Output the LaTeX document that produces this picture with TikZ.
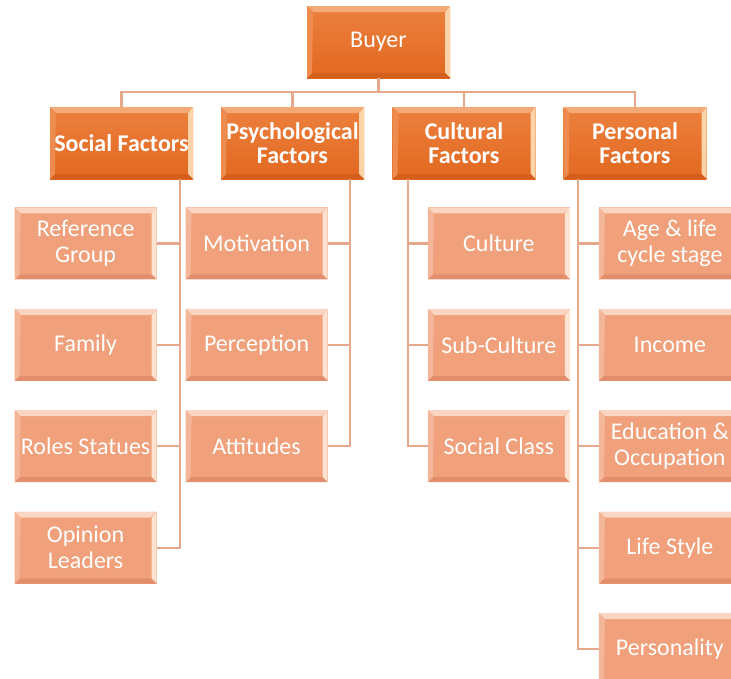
\documentclass[tikz,border=0pt]{standalone}
\usepackage{fontspec}
\setmainfont{Carlito}
\usepackage{tikz}
\usetikzlibrary{positioning}
\definecolor{headtop}{RGB}{236,128,62}
\definecolor{headbot}{RGB}{226,104,32}
\definecolor{headhi}{RGB}{244,170,118}
\definecolor{headrt}{RGB}{250,212,168}
\definecolor{headlo}{RGB}{212,94,28}
\definecolor{headlt}{RGB}{238,140,80}
\definecolor{itemfill}{RGB}{240,160,122}
\definecolor{itemhi}{RGB}{250,214,194}
\definecolor{itemrt}{RGB}{252,226,208}
\definecolor{itemlo}{RGB}{226,142,108}
\definecolor{itemlt}{RGB}{244,182,152}
\definecolor{linecol}{RGB}{230,168,138}
% top, right, bottom, left strips of the bevel
\newcommand{\boxbevel}[4]{%
\fill[#1] (path picture bounding box.north west) -- (path picture bounding box.north east) -- ([shift={(-6pt,-6pt)}]path picture bounding box.north east) -- ([shift={(6pt,-6pt)}]path picture bounding box.north west) -- cycle;
\fill[#2] (path picture bounding box.north east) -- (path picture bounding box.south east) -- ([shift={(-5pt,5pt)}]path picture bounding box.south east) -- ([shift={(-5pt,-6pt)}]path picture bounding box.north east) -- cycle;
\fill[#3] (path picture bounding box.south east) -- (path picture bounding box.south west) -- ([shift={(5pt,5pt)}]path picture bounding box.south west) -- ([shift={(-5pt,5pt)}]path picture bounding box.south east) -- cycle;
\fill[#4] (path picture bounding box.south west) -- (path picture bounding box.north west) -- ([shift={(6pt,-6pt)}]path picture bounding box.north west) -- ([shift={(5pt,5pt)}]path picture bounding box.south west) -- cycle;}
\tikzstyle{block} = [rectangle, minimum width=142pt, minimum height=72pt, inner sep=1pt,
text=white, align=center, font=\fontsize{24}{26}\selectfont]
\tikzstyle{head} = [block, minimum width=143pt, top color=headtop, bottom color=headbot,
font=\bfseries\fontsize{24}{24}\selectfont, path picture={\boxbevel{headhi}{headrt}{headlo}{headlt}}]
\tikzstyle{item} = [block, fill=itemfill, path picture={\boxbevel{itemhi}{itemrt}{itemlo}{itemlt}}]
\tikzstyle{line} = [draw, linecol, line width=2.2pt]

\begin{document}
\begin{tikzpicture}[x=1pt, y=-1pt, node distance=29pt]
\useasboundingbox (0,0) rectangle (731,678);
    % nodes
\node [head] (buyer) at (378.5,42) {\mdseries Buyer};
\node [head] (sf) at (121.5,143) {Social Factors};
\node [head] (pf) at (292.5,143) {Psychological\\Factors};
\node [head] (cf) at (464,143) {Cultural\\Factors};
\node [head] (perf) at (635,143) {Personal\\Factors};
\node [item, below left=28pt and -107pt of sf] (rg) {Reference\\Group};
\node [item, below=of rg] (fam) {Family};
\node [item, below=of fam] (rs) {Roles Statues};
\node [item, below=of rs] (ol) {Opinion\\Leaders};
\node [item, below left=28pt and -107pt of pf] (mot) {Motivation};
\node [item, below=of mot] (per) {Perception};
\node [item, below=of per] (att) {Attitudes};
\node [item, below right=28pt and -108pt of cf] (cul) {Culture};
\node [item, below=of cul] (sub) {Sub-Culture};
\node [item, below=of sub] (scl) {Social Class};
\node [item, below right=28pt and -108pt of perf] (alc) {Age \& life\\cycle stage};
\node [item, below=of alc] (inc) {Income};
\node [item, below=of inc] (eo) {Education \&\\Occupation};
\node [item, below=of eo] (ls) {Life Style};
\node [item, below=of ls] (pers) {Personality};
\coordinate (bus) at (378.5,92);
\coordinate (sft) at ([xshift=-13pt]sf.south east);
\coordinate (pft) at ([xshift=-14pt]pf.south east);
\coordinate (cft) at ([xshift=16pt]cf.south west);
\coordinate (perft) at ([xshift=15pt]perf.south west);

%edges
\draw [line] (buyer) -- (bus);
\draw [line] (bus) -| (sf);
\draw [line] (bus) -| (pf);
\draw [line] (bus) -| (cf);
\draw [line] (bus) -| (perf);
\draw [line] (sft) |- (rg);
\draw [line] (sft) |- (fam);
\draw [line] (sft) |- (rs);
\draw [line] (sft) |- (ol);
\draw [line] (pft) |- (mot);
\draw [line] (pft) |- (per);
\draw [line] (pft) |- (att);
\draw [line] (cft) |- (cul);
\draw [line] (cft) |- (sub);
\draw [line] (cft) |- (scl);
\draw [line] (perft) |- (alc);
\draw [line] (perft) |- (inc);
\draw [line] (perft) |- (eo);
\draw [line] (perft) |- (ls);
\draw [line] (perft) |- (pers);
\end{tikzpicture}
\end{document}
